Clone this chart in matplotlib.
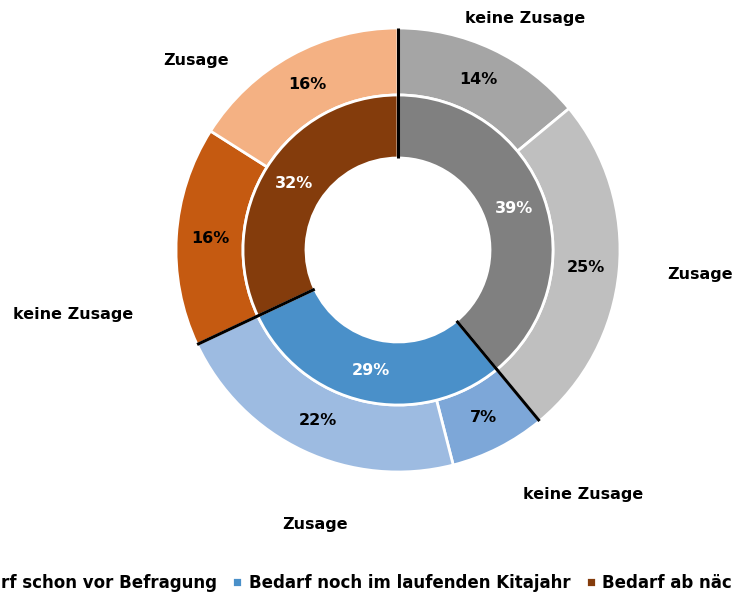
import matplotlib
matplotlib.use("Agg")
import matplotlib.pyplot as plt
import numpy as np

plt.rcParams['font.family'] = ['DejaVu Sans']
plt.rcParams['font.weight'] = 'bold'

# inner ring: groups
groups = ["Bedarf schon vor Befragung", "Bedarf noch im laufenden Kitajahr",
          "Bedarf ab nächstem Kitajahr"]
group_vals = [39, 29, 32]
group_colors = ["#808080", "#4A90C9", "#843C0C"]

# outer ring: answers within each group
sub_labels = ["keine Zusage", "Zusage", "keine Zusage", "Zusage", "keine Zusage", "Zusage"]
sub_vals = [14, 25, 7, 22, 16, 16]
sub_colors = ["#A5A5A5", "#BFBFBF", "#7DA7D8", "#9DBBE1", "#C55A11", "#F4B183"]

# where the outer category names sit (pixels from centre)
sub_label_pos = [(127, 232), (302, -25), (185, -244), (-83, -275), (-325, -64), (-202, 190)]

W, H = 733, 597
cx, cy = 398, 250
r_out, r_mid, r_in = 222, 155, 92

fig = plt.figure(figsize=(W / 100, H / 100), dpi=100)
ax = fig.add_axes([0, 0, 1, 1])
ax.set_aspect('equal')
ax.axis('off')

outer, _ = ax.pie(sub_vals, radius=r_out, colors=sub_colors, startangle=90, counterclock=False,
                  wedgeprops=dict(width=r_out - r_mid, edgecolor='white', linewidth=2))
inner, _ = ax.pie(group_vals, radius=r_mid, colors=group_colors, startangle=90, counterclock=False,
                  wedgeprops=dict(width=r_mid - r_in, edgecolor='white', linewidth=2))
ax.set_xlim(-cx, W - cx)
ax.set_ylim(-(H - cy), cy)

fs = 11.5
# percentage labels
for w, v in zip(outer, sub_vals):
    a = np.deg2rad((w.theta1 + w.theta2) / 2)
    r = (r_out + r_mid) / 2
    ax.text(r * np.cos(a), r * np.sin(a), f"{v}%", ha='center', va='center', fontsize=fs,
            fontweight='bold', color='black')
for w, v in zip(inner, group_vals):
    a = np.deg2rad((w.theta1 + w.theta2) / 2)
    r = (r_mid + r_in) / 2
    ax.text(r * np.cos(a), r * np.sin(a), f"{v}%", ha='center', va='center', fontsize=fs,
            fontweight='bold', color='white')

for lab, (x, y) in zip(sub_labels, sub_label_pos):
    ax.text(x, y, lab, ha='center', va='center', fontsize=fs, fontweight='bold')

# black separators between groups
bounds = np.cumsum([0] + group_vals[:-1])
for b in bounds:
    a = np.deg2rad(90 - b * 3.6)
    ax.plot([r_in * np.cos(a), r_out * np.cos(a)], [r_in * np.sin(a), r_out * np.sin(a)],
            color='black', lw=2.2, solid_capstyle='butt', zorder=5)

fig.legend(inner, groups, loc='center', bbox_to_anchor=(404 / W, 1 - 583 / H), ncol=3,
           frameon=False, fontsize=12, handlelength=0.6, handleheight=0.6,
           handletextpad=0.4, columnspacing=0.9)

fig.savefig("out.png", dpi=100)
